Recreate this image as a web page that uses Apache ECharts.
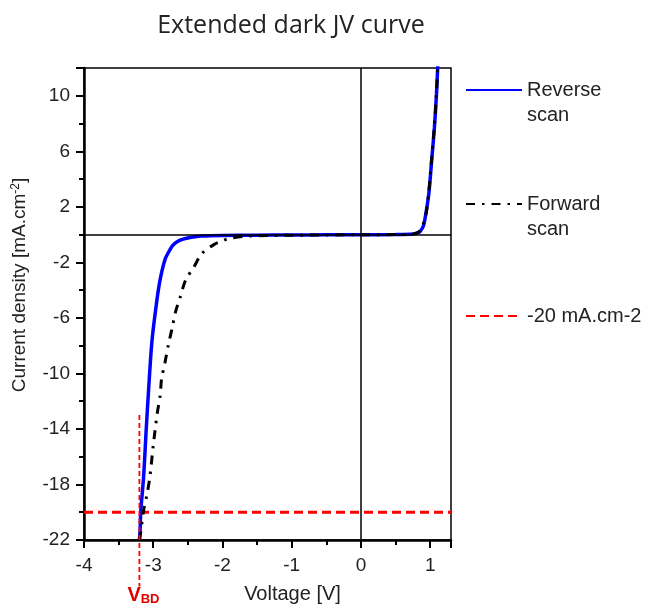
<!DOCTYPE html>
<html>
<head>
<meta charset="utf-8">
<script src="https://cdn.jsdelivr.net/npm/echarts@6/dist/echarts.min.js"></script>
<style>
  html, body { margin: 0; padding: 0; background: #fff; }
  #chart { width: 650px; height: 609px; }
</style>
</head>
<body>
<div id="chart"></div>
<script>
// reverse scan (blue, solid)
const reverseV = [-3.2, -3.19, -3.18, -3.14, -3.10, -3.06, -3.02, -2.97, -2.91, -2.83, -2.76, -2.71, -2.62, -2.52, -2.4, -2.3, -2.0, -1.5, -1.0, -0.5, 0, 0.5, 0.7, 0.76, 0.82, 0.855, 0.9, 0.93, 0.98, 1.02, 1.06, 1.09, 1.11];
const reverseJ = [-22, -21.3, -19.9, -17.5, -13.9, -10.6, -7.75, -5.6, -3.5, -1.8, -1.1, -0.74, -0.42, -0.26, -0.15, -0.1, -0.06, -0.04, -0.03, -0.02, -0.01, 0, 0.02, 0.05, 0.12, 0.24, 0.6, 1.3, 2.96, 5.3, 7.7, 10.1, 12.3];
// forward scan (black, dash-dot)
const forwardV = [-3.2, -3.18, -3.14, -3.09, -3.05, -3.0, -2.94, -2.90, -2.88, -2.83, -2.78, -2.73, -2.68, -2.61, -2.53, -2.42, -2.30, -2.13, -2.0, -1.89, -1.6, -1.0, -0.5, 0, 0.5, 0.7, 0.76, 0.82, 0.86, 0.9, 0.94, 0.98, 1.02, 1.06, 1.09, 1.11];
const forwardJ = [-22, -21.4, -19.9, -18.7, -17.5, -15.2, -12.8, -11.6, -10.4, -9.2, -7.9, -6.8, -5.6, -4.5, -3.24, -2.4, -1.38, -0.74, -0.45, -0.26, -0.1, -0.05, -0.03, -0.01, 0, 0.02, 0.05, 0.15, 0.35, 0.8, 1.5, 3.1, 5.4, 7.8, 10.2, 12.3];
// reference level and breakdown voltage
const refJ = -20;
const vBD = -3.2;
const vbdLineJ = [-13, -25.35];

const xTickLabels = [-4, -3, -2, -1, 0, 1];
const yTickLabels = [-22, -18, -14, -10, -6, -2, 2, 6, 10];

const FONT = 'Liberation Sans';

function zip(a, b) {
    return a.map((v, i) => [v, b[i]]);
}

var dom = document.getElementById('chart');
var myChart = echarts.init(dom);

// legend entries: a leading empty line puts the icon level with the first text line
let legendBase = {
    left: 465,
    padding: 0,
    itemWidth: 56,
    itemHeight: 14,
    itemStyle: { opacity: 0 },
    formatter: name => name.indexOf('\n') >= 0 ? '\n' + name : name,
    textStyle: { fontFamily: FONT, fontSize: 20, color: '#222', lineHeight: 25 }
};

let option = {
    animation: false,
    title: {
        text: 'Extended dark JV curve',
        left: 286,
        top: 8,
        textAlign: 'center',
        textStyle: {
            fontFamily: 'Open Sans',
            fontWeight: 'normal',
            fontSize: 25,
            color: '#222'
        }
    },
    legend: [
        Object.assign({}, legendBase, { top: 52.5, data: ['Reverse\nscan'] }),
        Object.assign({}, legendBase, { top: 166.5, data: ['Forward\nscan'] }),
        Object.assign({}, legendBase, { top: 303.5, data: ['-20 mA.cm-2'] })
    ],
    grid: {
        left: 84,
        right: 199,
        top: 68,
        bottom: 66,
        show: true,
        borderColor: '#000',
        borderWidth: 1.5
    },
    xAxis: {
        type: 'value',
        min: -4,
        max: 1.3,
        interval: 1,
        name: 'Voltage [V]',
        nameLocation: 'middle',
        nameGap: 44,
        nameTextStyle: { fontFamily: FONT, fontSize: 20, color: '#222', padding: [0, 0, 0, 50] },
        axisLine: { onZero: false, lineStyle: { color: '#000', width: 2.5 } },
        axisTick: { length: 8, lineStyle: { color: '#000', width: 2 } },
        minorTick: { show: true, splitNumber: 2, length: 5, lineStyle: { color: '#000', width: 2 } },
        splitLine: { show: false },
        axisLabel: {
            margin: 16,
            fontFamily: FONT, fontSize: 19, color: '#222',
            showMaxLabel: false,
            formatter: v => xTickLabels.includes(v) ? String(v) : ''
        }
    },
    yAxis: {
        type: 'value',
        min: -22,
        max: 12,
        interval: 4,
        name: '{a|Current density [mA.cm}{b|-2}{a|]}',
        nameLocation: 'middle',
        nameGap: 54,
        nameTextStyle: {
            padding: [0, 0, 0, 38],
            rich: {
                a: { fontFamily: FONT, fontSize: 19, color: '#222' },
                b: { fontFamily: FONT, fontSize: 12, color: '#222', verticalAlign: 'top', padding: [0, 0, 8, 0] }
            }
        },
        axisLine: { onZero: false, lineStyle: { color: '#000', width: 2.5 } },
        axisTick: { length: 8, lineStyle: { color: '#000', width: 2 } },
        minorTick: { show: true, splitNumber: 2, length: 5, lineStyle: { color: '#000', width: 2 } },
        splitLine: { show: false },
        axisLabel: {
            margin: 14,
            fontFamily: FONT, fontSize: 19, color: '#222',
            showMaxLabel: false,
            formatter: v => yTickLabels.includes(v) ? String(v) : ''
        }
    },
    series: [
        {
            name: '-20 mA.cm-2',
            type: 'line',
            symbol: 'none',
            data: [[-4, refJ], [1.3, refJ]],
            lineStyle: { color: '#ff0000', width: 3, type: [9, 5] },
            itemStyle: { color: '#ff0000' },
            z: 3,
            markLine: {
                silent: true,
                symbol: 'none',
                label: { show: false },
                lineStyle: { color: '#000', width: 1.5, type: 'solid' },
                data: [{ xAxis: 0 }, { yAxis: 0 }]
            }
        },
        {
            name: 'Reverse\nscan',
            type: 'line',
            symbol: 'none',
            smooth: 0.3,
            data: zip(reverseV, reverseJ),
            lineStyle: { color: '#0000ff', width: 3.5 },
            itemStyle: { color: '#0000ff' },
            z: 4
        },
        {
            name: 'Forward\nscan',
            type: 'line',
            symbol: 'none',
            smooth: 0.3,
            data: zip(forwardV, forwardJ),
            lineStyle: { color: '#000', width: 3, type: [9, 7, 2.5, 7] },
            itemStyle: { color: '#000' },
            z: 5
        }
    ]
};

myChart.setOption(option, true);

// V_BD marker: dashed vertical line running past the x axis, placed through the axes' scales
let pTop = myChart.convertToPixel({ xAxisIndex: 0, yAxisIndex: 0 }, [vBD, vbdLineJ[0]]);
let pBot = myChart.convertToPixel({ xAxisIndex: 0, yAxisIndex: 0 }, [vBD, vbdLineJ[1]]);
myChart.setOption({
    graphic: [
        {
            type: 'line',
            z: 6,
            shape: { x1: pTop[0], y1: pTop[1], x2: pBot[0], y2: pBot[1] },
            style: { stroke: '#ff0000', lineWidth: 1.8, lineDash: [5, 3] }
        },
        {
            type: 'text',
            z: 6,
            left: pBot[0] - 12,
            top: pBot[1] - 1,
            style: {
                text: '{v|V}{s|BD}',
                rich: {
                    v: { fontFamily: FONT, fontSize: 20, fontWeight: 'bold', fill: '#e00000' },
                    s: { fontFamily: FONT, fontSize: 13, fontWeight: 'bold', fill: '#e00000', verticalAlign: 'bottom', padding: [8, 0, 0, 0] }
                }
            }
        }
    ]
});
</script>
</body>
</html>
